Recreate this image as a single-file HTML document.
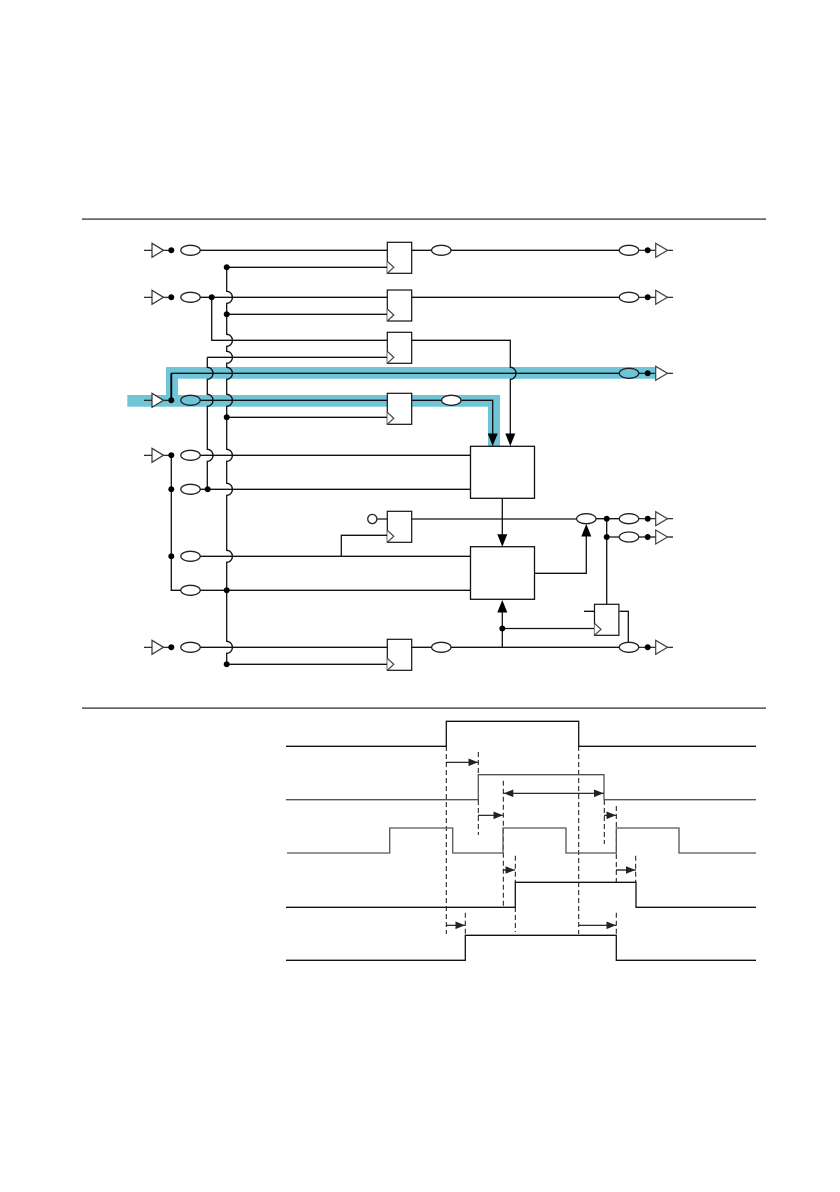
<!DOCTYPE html>
<html><head><meta charset="utf-8"><style>html,body{margin:0;padding:0;background:#fff}svg{display:block}</style></head><body>
<svg width="840" height="1192" viewBox="0 0 840 1192" xmlns="http://www.w3.org/2000/svg">
<defs>
<g id="bi"><path d="M144 0H152M163 0H171" fill="none" stroke="#111" stroke-width="1.2"/><path d="M152 -7L163.5 0L152 7Z" fill="#fff" stroke="#333" stroke-width="1.2"/><circle cx="171.3" cy="0" r="3" fill="#000"/></g>
<g id="bo"><path d="M638 0H656M667 0H673" fill="none" stroke="#111" stroke-width="1.2"/><path d="M655.7 -7L667.5 0L655.7 7Z" fill="#fff" stroke="#444" stroke-width="1.2"/><circle cx="647.7" cy="0" r="3" fill="#000"/></g>
<g id="ff"><rect x="0" y="0" width="24.4" height="31" fill="#fff" stroke="#111" stroke-width="1.2"/><path d="M0 19L6.5 25L0 31" fill="#fff" stroke="#444" stroke-width="1.2"/></g>
<polygon id="hd" points="-5,-12.5 5,-12.5 0,0" fill="#000"/>
<polygon id="hu" points="-5,12.5 5,12.5 0,0" fill="#000"/>
<polygon id="ar" points="-9.5,-3.8 0,0 -9.5,3.8" fill="#222"/>
<polygon id="al" points="9.5,-3.8 0,0 9.5,3.8" fill="#222"/>
</defs>

<rect x="82" y="218.5" width="684" height="1.2" fill="#222"/>
<rect x="82" y="707.5" width="684" height="1.2" fill="#222"/>

<!-- teal path -->
<path d="M127.3 395H166V367H656V378.7H178V395H500V446H488V406.7H127.3Z" fill="#6fc5d8"/>

<!-- wires -->
<g fill="none" stroke="#111" stroke-width="1.3">
<path d="M200 250.3H387M200 297.3H387M211.7 297.3V340.3H387M207.3 357.3H387M226.7 267.3H387M226.7 314.3H387M226.7 417.3H387"/>
<path d="M200 400.3H387M200 455.3H470.5M200 489.3H470.5M200 556.3H470.5M171.3 455.3V590.3H181M200 590.3H470.5"/>
<path d="M341.3 556.3V535.3H387M376.8 519H387M200 647.3H387"/>
<path d="M226.7 267.3V291.3a5.7 6 0 0 1 0 12V334.3a5.7 6 0 0 1 0 12V351.3a5.7 6 0 0 1 0 12V367.3a5.7 6 0 0 1 0 12V394.3a5.7 6 0 0 1 0 12V449.3a5.7 6 0 0 1 0 12V483.3a5.7 6 0 0 1 0 12V550.3a5.7 6 0 0 1 0 12V641.3a5.7 6 0 0 1 0 12V664.3H387"/>
<path d="M207.3 357.3V367.3a5.7 6 0 0 1 0 12V394.3a5.7 6 0 0 1 0 12V449.3a5.7 6 0 0 1 0 12V489.3"/>
<path d="M171.3 373.3H640"/>
<path d="M411.7 250.3H620M411.7 297.3H620M411.7 340.3H510.3V367.3a5.7 6 0 0 1 0 12V434"/>
<path d="M411.7 400.3H492.7V434"/>
<path d="M502.3 498.3V535M411.7 519H577M596 518.7H620M606.7 518.7V604.3M606.7 537H620"/>
<path d="M534.6 573.3H586.3V535M502.3 611V647.3M502.3 628.5H594.3M584 611.3H594.3M619.7 611.3H628.3V643M411.7 647.3H620"/>
</g>
<path d="M171.3 373.3V400.3" fill="none" stroke="#000" stroke-width="1.8"/>

<!-- inputs -->
<use href="#bi" y="250.3"/><use href="#bi" y="297.3"/><use href="#bi" y="400.3"/><use href="#bi" y="455.3"/><use href="#bi" y="647.3"/>
<!-- outputs -->
<use href="#bo" y="250.3"/><use href="#bo" y="297.3"/><use href="#bo" y="373.3"/><use href="#bo" y="518.7"/><use href="#bo" y="537"/><use href="#bo" y="647.3"/>

<!-- flip-flops -->
<use href="#ff" x="387.3" y="242.3"/><use href="#ff" x="387.3" y="290"/><use href="#ff" x="387.3" y="332.3"/><use href="#ff" x="387.3" y="393.3"/><use href="#ff" x="387.3" y="511.3"/><use href="#ff" x="387.3" y="639.3"/><use href="#ff" x="594.5" y="604.3"/>

<!-- blocks -->
<rect x="470.5" y="446.3" width="64" height="52" fill="#fff" stroke="#111" stroke-width="1.3"/>
<rect x="470.5" y="546.7" width="64" height="52.6" fill="#fff" stroke="#111" stroke-width="1.3"/>

<!-- ellipses -->
<g fill="#fff" stroke="#222" stroke-width="1.3">
<ellipse cx="190.5" cy="250.3" rx="9.7" ry="5"/><ellipse cx="190.5" cy="297.3" rx="9.7" ry="5"/>
<ellipse cx="190.5" cy="400.3" rx="9.7" ry="5" fill="#6fc5d8"/>
<ellipse cx="190.5" cy="455.3" rx="9.7" ry="5"/><ellipse cx="190.5" cy="489.3" rx="9.7" ry="5"/>
<ellipse cx="190.5" cy="556.3" rx="9.7" ry="5"/><ellipse cx="190.5" cy="590.3" rx="9.7" ry="5"/><ellipse cx="190.5" cy="647.3" rx="9.7" ry="5"/>
<ellipse cx="441.3" cy="250.3" rx="9.7" ry="5"/><ellipse cx="451.3" cy="400.3" rx="9.7" ry="5"/><ellipse cx="441.3" cy="647.3" rx="9.7" ry="5"/>
<ellipse cx="629" cy="250.3" rx="9.7" ry="5"/><ellipse cx="629" cy="297.3" rx="9.7" ry="5"/>
<ellipse cx="629" cy="373.3" rx="9.7" ry="5" fill="#6fc5d8"/>
<ellipse cx="586.3" cy="518.7" rx="9.7" ry="5"/><ellipse cx="629" cy="518.7" rx="9.7" ry="5"/><ellipse cx="629" cy="537" rx="9.7" ry="5"/><ellipse cx="629" cy="647.3" rx="9.7" ry="5"/>
<circle cx="372.3" cy="519" r="4.6"/>
</g>

<!-- dots -->
<g fill="#000">
<circle cx="226.7" cy="267.3" r="3"/><circle cx="226.7" cy="314.3" r="3"/><circle cx="211.7" cy="297.3" r="3"/>
<circle cx="226.7" cy="417.3" r="3"/><circle cx="171.3" cy="489.3" r="3"/><circle cx="207.7" cy="489.3" r="3"/>
<circle cx="171.3" cy="556.3" r="3"/><circle cx="226.7" cy="590.3" r="3"/><circle cx="226.7" cy="664.3" r="3"/>
<circle cx="606.7" cy="518.7" r="3"/><circle cx="606.7" cy="537" r="3"/><circle cx="502.3" cy="628.5" r="3"/>
</g>

<!-- arrowheads -->
<use href="#hd" x="492.7" y="446"/><use href="#hd" x="510.3" y="446"/><use href="#hd" x="502.3" y="546.7"/>
<use href="#hu" x="502.3" y="600"/><use href="#hu" x="586.3" y="524"/>

<!-- timing dashed -->
<g fill="none" stroke="#111" stroke-width="1" stroke-dasharray="5 3">
<path d="M446.3 746V934M578.7 746V934"/>
<path d="M478.3 752V775M478.3 800V835M503.3 780.7V906.7M515.3 855.7V882M515.3 907V932M465.3 912.7V935"/>
<path d="M604.3 800V844M616.3 806V882M616.3 912.7V935M635.7 855.7V882"/>
</g>
<!-- timing signals -->
<g fill="none" stroke-width="1.3">
<path stroke="#111" d="M286 746.3H446.3V721.3H578.7V746.3H756"/>
<path stroke="#555" d="M286 799.7H478.3V774.7H604V799.7H756"/>
<path stroke="#555" d="M287 853H389.7V828H452.7V853H503V828H566V853H616.3V828H679V853H756"/>
<path stroke="#111" d="M286 907.3H515.3V882.3H636V907.3H756"/>
<path stroke="#111" d="M286 960.3H465.3V935.3H616.3V960.3H756"/>
</g>
<!-- timing arrows -->
<g fill="none" stroke="#111" stroke-width="1.2">
<path d="M446 762.3H478M503.3 793.3H604M478 815.3H503M604 815.3H616M503 870H515M616 870H636M446 925.3H465M578.7 925.3H616"/>
</g>
<use href="#ar" x="478" y="762.3"/><use href="#al" x="503.8" y="793.3"/><use href="#ar" x="603.5" y="793.3"/>
<use href="#ar" x="503" y="815.3"/><use href="#ar" x="616" y="815.3"/><use href="#ar" x="515" y="870"/><use href="#ar" x="635.5" y="870"/>
<use href="#ar" x="465" y="925.3"/><use href="#ar" x="616" y="925.3"/>
</svg>
</body></html>
